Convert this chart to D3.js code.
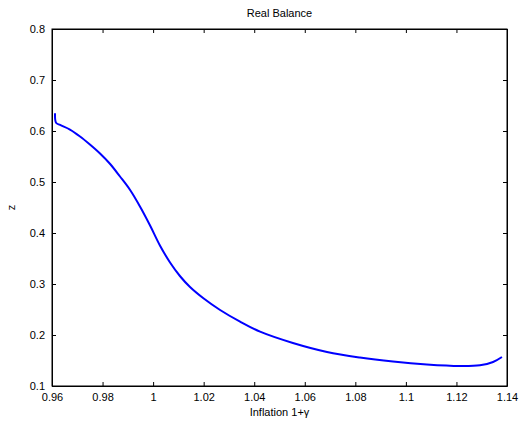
<!DOCTYPE html>
<html><head><meta charset="utf-8">
<script src="https://cdn.jsdelivr.net/npm/d3@7"></script>
<style>body{margin:0;background:#fff}svg{display:block}text{font-family:Arial,"Liberation Sans",sans-serif;font-size:11px;fill:#000}</style>
</head><body><svg id="c" width="519" height="430"></svg>
<script>
const inflation = [0.9612,0.9616,0.9632,0.9671,0.9711,0.9750,0.9790,0.9830,0.9869,0.9909,0.9948,0.9988,1.0027,1.0067,1.0106,1.0146,1.0199,1.0265,1.0344,1.0423,1.0553,1.0688,1.0818,1.0949,1.1083,1.1214,1.1293,1.1345,1.1380];
const realBalance = [0.6347,0.6163,0.6118,0.6029,0.5892,0.5735,0.5559,0.5353,0.5108,0.4843,0.4520,0.4147,0.3755,0.3422,0.3157,0.2941,0.2720,0.2490,0.2261,0.2065,0.1843,0.1667,0.1559,0.1480,0.1422,0.1392,0.1406,0.1471,0.1569];
const xTicks = [0.96,0.98,1,1.02,1.04,1.06,1.08,1.1,1.12,1.14];
const yTicks = [0.1,0.2,0.3,0.4,0.5,0.6,0.7,0.8];
const title = "Real Balance", xLabel = "Inflation 1+γ", yLabel = "z";

const L=52,R=507,T=29,B=386;
const svg=d3.select("#c");
const x=d3.scaleLinear().domain([0.96,1.14]).range([L,R]);
const y=d3.scaleLinear().domain([0.1,0.8]).range([B,T]);
const fmt=d=>String(+d.toFixed(2));
const tl=4;
svg.append("g").attr("transform",`translate(0,${B})`).call(d3.axisBottom(x).tickValues(xTicks).tickFormat(fmt).tickSizeInner(-tl).tickSizeOuter(0).tickPadding(7));
svg.append("g").attr("transform",`translate(0,${T})`).call(d3.axisTop(x).tickValues(xTicks).tickFormat("").tickSizeInner(-tl).tickSizeOuter(0));
svg.append("g").attr("transform",`translate(${L},0)`).call(d3.axisLeft(y).tickValues(yTicks).tickFormat(fmt).tickSizeInner(-tl).tickSizeOuter(0).tickPadding(7));
svg.append("g").attr("transform",`translate(${R},0)`).call(d3.axisRight(y).tickValues(yTicks).tickFormat("").tickSizeInner(-tl).tickSizeOuter(0));
svg.selectAll(".domain").attr("stroke","#000");
svg.selectAll(".tick line").attr("stroke","#000");
svg.selectAll(".tick text").style("font-size","11px").style("font-family","Arial, 'Liberation Sans', sans-serif").attr("fill","#000");
svg.append("rect").attr("x",L).attr("y",T).attr("width",R-L).attr("height",B-T).attr("fill","none").attr("stroke","#000");
const data=inflation.map((v,i)=>[v,realBalance[i]]);
svg.append("path").datum(data).attr("fill","none").attr("stroke","#0000ff").attr("stroke-width",2)
 .attr("d",d3.line().x(d=>x(d[0])).y(d=>y(d[1])).curve(d3.curveCatmullRom.alpha(0.5)));
svg.append("text").attr("x",(L+R)/2).attr("y",17).attr("text-anchor","middle").text(title);
svg.append("text").attr("x",(L+R)/2).attr("y",416).attr("text-anchor","middle").text(xLabel);
svg.append("text").attr("transform",`translate(15,${(T+B)/2}) rotate(-90)`).attr("text-anchor","middle").text(yLabel);
</script></body></html>
